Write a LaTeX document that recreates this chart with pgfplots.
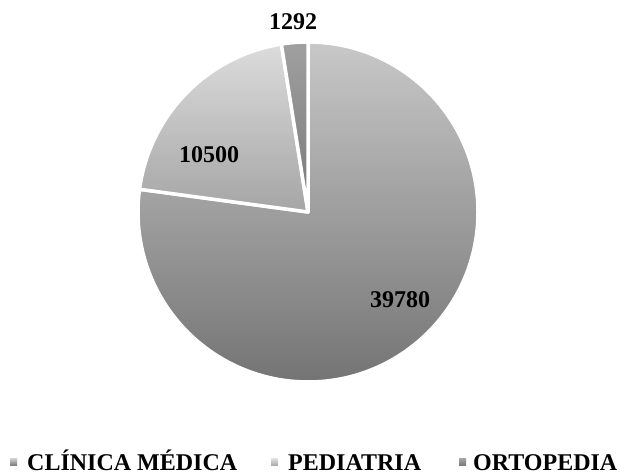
\documentclass[border=0pt]{standalone}
\usepackage{pgfplots}
\pgfplotsset{compat=1.18}
\usepackage{fontspec}
\setmainfont{Liberation Serif}
\definecolor{clinA}{RGB}{200,200,200}
\definecolor{clinB}{RGB}{116,116,116}
\definecolor{pedA}{RGB}{220,220,220}
\definecolor{pedB}{RGB}{165,165,165}
\definecolor{ortA}{RGB}{160,160,160}
\definecolor{ortB}{RGB}{120,120,120}
% slice values
\def\vClin{39780}
\def\vPed{10500}
\def\vOrt{1292}
\edef\tot{\fpeval{\vClin+\vPed+\vOrt}}
\edef\aClin{\fpeval{90-360*\vClin/\tot}}
\edef\aPed{\fpeval{\aClin-360*\vPed/\tot}}
\edef\aOrt{\fpeval{\aPed-360*\vOrt/\tot}}
\begin{document}
\begin{tikzpicture}
\begin{axis}[x=1pt, y=1pt, xmin=0, xmax=619, ymin=0, ymax=476,
  hide axis, clip=false, scale only axis]
\path (axis cs:0,0) rectangle (axis cs:619,476);
\path[shade, top color=clinA, bottom color=clinB, draw=white, line width=3.5pt, line join=round]
  (axis cs:308,264) -- ++(90:170pt) arc[start angle=90, end angle=\aClin, radius=170pt] -- cycle;
\path[shade, top color=pedA, bottom color=pedB, draw=white, line width=3.5pt, line join=round]
  (axis cs:308,264) -- ++(\aClin:170pt) arc[start angle=\aClin, end angle=\aPed, radius=170pt] -- cycle;
\path[shade, top color=ortA, bottom color=ortB, draw=white, line width=3.5pt, line join=round]
  (axis cs:308,264) -- ++(\aPed:170pt) arc[start angle=\aPed, end angle=\aOrt, radius=170pt] -- cycle;
\begin{scope}[every node/.style={font=\fontsize{24}{24}\selectfont\bfseries}]
\node at (axis cs:293,454) {\vOrt};
\node at (axis cs:209,321) {\vPed};
\node at (axis cs:400,176) {\vClin};
\end{scope}
\begin{scope}[every node/.style={font=\fontsize{24}{24}\selectfont\bfseries, anchor=base west, inner sep=0pt}]
\path[shade, top color=clinA, bottom color=clinB] (axis cs:10,10) rectangle (axis cs:17,17);
\node at (axis cs:27,5) {CLÍNICA MÉDICA};
\path[shade, top color=pedA, bottom color=pedB] (axis cs:271,10) rectangle (axis cs:278,17);
\node at (axis cs:288,5) {PEDIATRIA};
\path[shade, top color=ortA, bottom color=ortB] (axis cs:459,10) rectangle (axis cs:466,17);
\node at (axis cs:473,5) {ORTOPEDIA};
\end{scope}
\end{axis}
\end{tikzpicture}
\end{document}
